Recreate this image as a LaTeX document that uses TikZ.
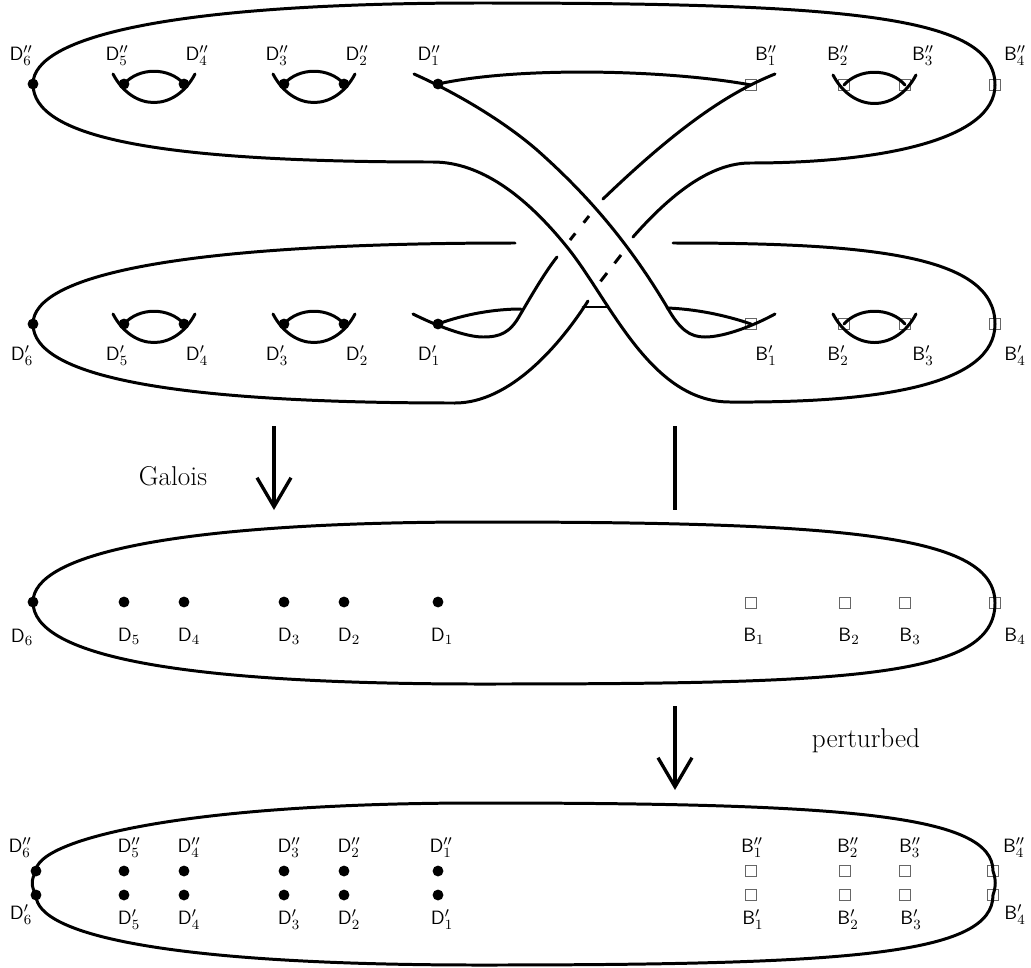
\documentclass[tikz,border=0pt]{standalone}
\usepackage{amsmath,amssymb}
\usetikzlibrary{arrows.meta, calc}
\tikzset{
  dotpt/.style={
    circle,
    fill=black,
    inner sep=0pt,
    minimum size=6.2pt
  },
  boxpt/.style={
    rectangle,
    draw=black!60,
    line width=0.5pt,
    inner sep=0pt,
    minimum size=6.2pt
  },
  lab/.style={
    inner sep=0pt,
    font=\fontsize{11}{13}\selectfont
  },
  bigtext/.style={
    inner sep=0pt,
    font=\fontsize{15.5}{18}\selectfont
  },
  strand/.style={
    line width=1.7pt,
    line cap=round
  },
  maparrow/.style={
    line width=1.9pt,
    -{Straight Barb[length=5.8mm,width=6.8mm,line width=1.9pt]}
  }
}
\newcommand{\lens}[2]{
  \draw[strand] ($(#1)+(-11,-10)$) .. controls ($(#1)+(9,28)$) and ($(#2)+(-9,28)$) .. ($(#2)+(11,-10)$);
  \draw[strand] (#1.center) .. controls ($(#1)+(15,-17)$) and ($(#2)+(-15,-17)$) .. (#2.center);
}
\begin{document}
\begin{tikzpicture}[x=0.02cm, y=-0.02cm]
  \useasboundingbox (0,0) rectangle (1031,967);

  % Points du haut
  \node[dotpt] (dpp6) at (33,84) {};
  \node[dotpt] (dpp5) at (124,84) {};
  \node[dotpt] (dpp4) at (184,84) {};
  \node[dotpt] (dpp3) at (284,84) {};
  \node[dotpt] (dpp2) at (344,84) {};
  \node[dotpt] (dpp1) at (438,84) {};
  \node[boxpt] (bpp1) at (751,85) {};
  \node[boxpt] (bpp2) at (844,85) {};
  \node[boxpt] (bpp3) at (905,85) {};
  \node[boxpt] (bpp4) at (995,85) {};
  \node[lab] (ldpp6) at (21,56) {$\mathsf{D}''_6$};
  \node[lab] (ldpp5) at (117,56) {$\mathsf{D}''_5$};
  \node[lab] (ldpp4) at (197,56) {$\mathsf{D}''_4$};
  \node[lab] (ldpp3) at (277,56) {$\mathsf{D}''_3$};
  \node[lab] (ldpp2) at (357,56) {$\mathsf{D}''_2$};
  \node[lab] (ldpp1) at (429,56) {$\mathsf{D}''_1$};
  \node[lab] (lbpp1) at (766,56) {$\mathsf{B}''_1$};
  \node[lab] (lbpp2) at (838,56) {$\mathsf{B}''_2$};
  \node[lab] (lbpp3) at (923,56) {$\mathsf{B}''_3$};
  \node[lab] (lbpp4) at (1015,56) {$\mathsf{B}''_4$};

  % Points de la deuxieme rangee
  \node[dotpt] (dp6) at (33,324) {};
  \node[dotpt] (dp5) at (124,324) {};
  \node[dotpt] (dp4) at (184,324) {};
  \node[dotpt] (dp3) at (284,324) {};
  \node[dotpt] (dp2) at (344,324) {};
  \node[dotpt] (dp1) at (438,324) {};
  \node[boxpt] (bp1) at (751,324) {};
  \node[boxpt] (bp2) at (844,324) {};
  \node[boxpt] (bp3) at (905,324) {};
  \node[boxpt] (bp4) at (995,324) {};
  \node[lab] (ldp6) at (22,356) {$\mathsf{D}'_6$};
  \node[lab] (ldp5) at (117,356) {$\mathsf{D}'_5$};
  \node[lab] (ldp4) at (197,356) {$\mathsf{D}'_4$};
  \node[lab] (ldp3) at (277,356) {$\mathsf{D}'_3$};
  \node[lab] (ldp2) at (357,356) {$\mathsf{D}'_2$};
  \node[lab] (ldp1) at (429,356) {$\mathsf{D}'_1$};
  \node[lab] (lbp1) at (766,356) {$\mathsf{B}'_1$};
  \node[lab] (lbp2) at (838,356) {$\mathsf{B}'_2$};
  \node[lab] (lbp3) at (923,356) {$\mathsf{B}'_3$};
  \node[lab] (lbp4) at (1015,356) {$\mathsf{B}'_4$};

  % Points de la troisieme rangee
  \node[dotpt] (d6) at (33,602) {};
  \node[dotpt] (d5) at (124,602) {};
  \node[dotpt] (d4) at (184,602) {};
  \node[dotpt] (d3) at (284,602) {};
  \node[dotpt] (d2) at (344,602) {};
  \node[dotpt] (d1) at (438,602) {};
  \node[boxpt] (b1) at (751,603) {};
  \node[boxpt] (b2) at (845,603) {};
  \node[boxpt] (b3) at (905,603) {};
  \node[boxpt] (b4) at (995,603) {};
  \node[lab] (ld6) at (22,637) {$\mathsf{D}_6$};
  \node[lab] (ld5) at (129,636) {$\mathsf{D}_5$};
  \node[lab] (ld4) at (189,636) {$\mathsf{D}_4$};
  \node[lab] (ld3) at (289,636) {$\mathsf{D}_3$};
  \node[lab] (ld2) at (349,636) {$\mathsf{D}_2$};
  \node[lab] (ld1) at (442,636) {$\mathsf{D}_1$};
  \node[lab] (lb1) at (754,636) {$\mathsf{B}_1$};
  \node[lab] (lb2) at (849,636) {$\mathsf{B}_2$};
  \node[lab] (lb3) at (910,636) {$\mathsf{B}_3$};
  \node[lab] (lb4) at (1015,636) {$\mathsf{B}_4$};

  % Points du bas
  \node[dotpt] (qpp6) at (36,871) {};
  \node[dotpt] (qpp5) at (124,871) {};
  \node[dotpt] (qpp4) at (184,871) {};
  \node[dotpt] (qpp3) at (284,871) {};
  \node[dotpt] (qpp2) at (344,871) {};
  \node[dotpt] (qpp1) at (438,871) {};
  \node[dotpt] (qp6) at (36,895) {};
  \node[dotpt] (qp5) at (124,895) {};
  \node[dotpt] (qp4) at (184,895) {};
  \node[dotpt] (qp3) at (284,895) {};
  \node[dotpt] (qp2) at (344,895) {};
  \node[dotpt] (qp1) at (438,895) {};
  \node[boxpt] (cpp1) at (751,871) {};
  \node[boxpt] (cpp2) at (845,871) {};
  \node[boxpt] (cpp3) at (905,871) {};
  \node[boxpt] (cpp4) at (993,871) {};
  \node[boxpt] (cp1) at (751,895) {};
  \node[boxpt] (cp2) at (845,895) {};
  \node[boxpt] (cp3) at (905,895) {};
  \node[boxpt] (cp4) at (993,895) {};
  \node[lab] (lqpp6) at (20,848) {$\mathsf{D}''_6$};
  \node[lab] (lqpp5) at (129,848) {$\mathsf{D}''_5$};
  \node[lab] (lqpp4) at (189,848) {$\mathsf{D}''_4$};
  \node[lab] (lqpp3) at (289,848) {$\mathsf{D}''_3$};
  \node[lab] (lqpp2) at (349,848) {$\mathsf{D}''_2$};
  \node[lab] (lqpp1) at (441,848) {$\mathsf{D}''_1$};
  \node[lab] (lqp6) at (21,915) {$\mathsf{D}'_6$};
  \node[lab] (lqp5) at (129,920) {$\mathsf{D}'_5$};
  \node[lab] (lqp4) at (189,920) {$\mathsf{D}'_4$};
  \node[lab] (lqp3) at (289,920) {$\mathsf{D}'_3$};
  \node[lab] (lqp2) at (349,920) {$\mathsf{D}'_2$};
  \node[lab] (lqp1) at (442,920) {$\mathsf{D}'_1$};
  \node[lab] (lcpp1) at (752,848) {$\mathsf{B}''_1$};
  \node[lab] (lcpp2) at (848,848) {$\mathsf{B}''_2$};
  \node[lab] (lcpp3) at (910,848) {$\mathsf{B}''_3$};
  \node[lab] (lcpp4) at (1014,848) {$\mathsf{B}''_4$};
  \node[lab] (lcp1) at (753,920) {$\mathsf{B}'_1$};
  \node[lab] (lcp2) at (848,920) {$\mathsf{B}'_2$};
  \node[lab] (lcp3) at (911,920) {$\mathsf{B}'_3$};
  \node[lab] (lcp4) at (1015,915) {$\mathsf{B}'_4$};

  % Extremites libres
  \coordinate (ta1) at (414,74);
  \coordinate (ta2) at (775,314);
  \coordinate (td1) at (775,74);
  \coordinate (td2) at (603,199);
  \coordinate (td3) at (557,257);
  \coordinate (td4) at (413,314);
  \coordinate (tb1) at (633,237);
  \coordinate (tb2) at (588,301);
  \coordinate (tl1) at (515,243);
  \coordinate (tr1) at (673,243);
  \coordinate (ja) at (521,309);
  \coordinate (jb) at (583,307);
  \coordinate (jc) at (607,307);
  \coordinate (jd) at (667,308);
  \coordinate (ga) at (589,216);
  \coordinate (gb) at (570,240);
  \coordinate (gc) at (621,255);
  \coordinate (gd) at (600,282);

  % Lentilles
  \lens{dpp5}{dpp4}
  \lens{dpp3}{dpp2}
  \lens{bpp2}{bpp3}
  \lens{dp5}{dp4}
  \lens{dp3}{dp2}
  \lens{bp2}{bp3}

  % Brins croises
  \draw[strand] (dpp6.center) .. controls (33,37) and (170,3) .. (480,3) .. controls (850,3) and (995,16) .. (bpp4.center);
  \draw[strand] (dpp6.center) .. controls (33,136) and (150,162) .. (433,162) .. controls (480,162) and (525,195) .. (567,247) .. controls (610,300) and (650,402) .. (730,402) .. controls (880,403) and (995,385) .. (bp4.center);
  \draw[strand] (bpp4.center) .. controls (995,140) and (880,163) .. (750,163) .. controls (710,163) and (670,195) .. (tb1);
  \draw[strand] (tb2) .. controls (560,345) and (510,403) .. (455,403) .. controls (170,403) and (33,376) .. (dp6.center);
  \draw[strand] (ta1) .. controls (450,90) and (500,118) .. (537,150) .. controls (590,197) and (630,245) .. (667,307) .. controls (680,330) and (690,337) .. (705,337) .. controls (725,337) and (755,325) .. (ta2);
  \draw[strand] (td1) .. controls (730,92) and (680,125) .. (td2);
  \draw[strand] (td3) .. controls (545,272) and (530,298) .. (520,315) .. controls (510,333) and (500,337) .. (483,337) .. controls (465,337) and (435,325) .. (td4);
  \draw[strand, line cap=butt, dash pattern=on 4.9pt off 7.7pt] (ga) -- (gb);
  \draw[strand, line cap=butt, dash pattern=on 6pt off 7pt] (gc) -- (gd);
  \draw[strand] (dpp1.center) .. controls (520,66) and (670,70) .. (bpp1.center);
  \draw[strand] (dp6.center) .. controls (33,277) and (170,243) .. (tl1);
  \draw[strand] (tr1) .. controls (870,243) and (995,255) .. (bp4.center);
  \draw[strand] (dp1.center) .. controls (465,314) and (495,309) .. (ja);
  \draw[strand] (jb) -- (jc);
  \draw[strand] (jd) .. controls (695,309) and (725,315) .. (bp1.center);

  % Ovale de la troisieme rangee
  \draw[strand] (d6.center) .. controls (33,555) and (170,522) .. (480,522) .. controls (850,522) and (995,535) .. (b4.center) .. controls (995,678) and (850,684) .. (480,684) .. controls (170,684) and (33,654) .. (d6.center);

  % Ovale du bas
  \draw[strand] (qpp6.center) .. controls (36,842) and (170,803) .. (480,803) .. controls (850,803) and (993,815) .. (cpp4.center) .. controls (996,880) and (996,886) .. (cp4.center) .. controls (993,955) and (850,965) .. (480,965) .. controls (170,965) and (36,935) .. (qp6.center) .. controls (31,886) and (31,880) .. (qpp6.center);

  % Fleches
  \coordinate (ara) at (274,426);
  \coordinate (arb) at (274,510);
  \coordinate (arc) at (675,426);
  \coordinate (ard) at (675,510);
  \coordinate (are) at (675,706);
  \coordinate (arf) at (675,790);
  \draw[maparrow] (ara) -- (arb);
  \draw[line width=1.9pt] (arc) -- (ard);
  \draw[maparrow] (are) -- (arf);
  \node[bigtext] (galois) at (173,476) {Galois};
  \node[bigtext] (perturbed) at (866,741) {perturbed};
\end{tikzpicture}
\end{document}
